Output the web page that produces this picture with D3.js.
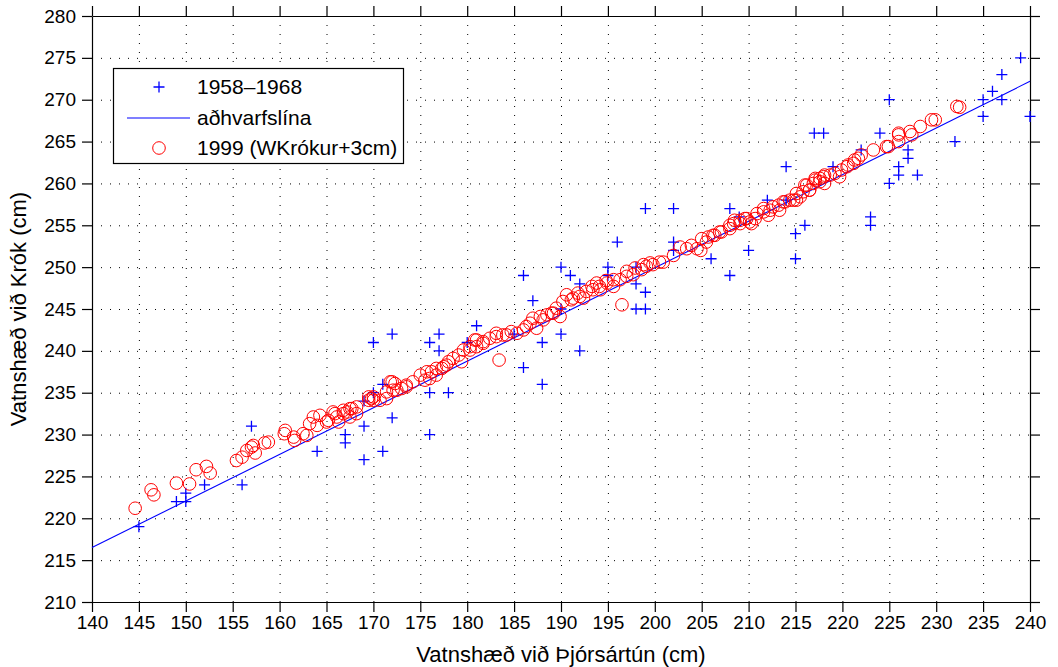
<!DOCTYPE html>
<html>
<head>
<meta charset="utf-8">
<script src="https://cdn.jsdelivr.net/npm/d3@7"></script>
<style>
  body { margin: 0; background: #fff; }
  text { font-family: "Liberation Sans", Arial, Helvetica, sans-serif; }
</style>
</head>
<body>
<div id="chart"></div>
<script>
// axis ticks
var xTicks = [140,145,150,155,160,165,170,175,180,185,190,195,200,205,210,215,220,225,230,235,240];
var yTicks = [210,215,220,225,230,235,240,245,250,255,260,265,270,275,280];

// 1958-1968 measurements (Þjórsártún, Krókur)
var oldX = [145,149,150,150,152,156,157,164,167,167,169,169,169,170,170,171,171,172,172,176,176,176,177,177,178,180,181,185,186,186,187,188,188,190,190,190,191,192,192,195,195,196,198,198,199,198,199,199,202,202,202,206,208,208,209,210,212,214,214,215,215,216,217,218,219,222,223,223,224,225,225,226,226,227,227,228,232,235,235,236,237,237,239,240];
var oldY = [219,222,222,223,224,224,231,228,230,229,227,231,234,235,241,228,236,232,242,241,235,230,242,240,235,241,243,242,249,238,246,241,236,250,242,245,249,248,240,250,249,253,250,248,247,245,245,257,257,253,252,251,257,249,256,252,258,262,258,254,251,255,266,266,262,264,256,255,266,270,260,262,261,264,263,261,265,270,268,271,273,270,275,268];

// regression line end points
var regX = [140, 240];
var regY = [216.5, 272.2];

// 1999 measurements (WKrókur + 3cm)
var newX = [144.6,146.3,146.6,149.0,150.4,151.1,152.2,152.6,155.4,156.0,156.5,157.0,157.4,157.2,158.4,158.8,160.5,161.5,161.6,162.5,162.9,163.2,163.6,164.3,164.0,165.0,165.7,166.1,166.3,167.2,167.7,168.2,167.5,169.5,169.8,170.7,171.4,172.1,172.3,173.0,173.5,
  160.6,165.2,166.8,168.2,170.0,171.4,172.0,174.2,175.0,175.5,176.2,176.7,177.3,177.8,178.5,179.1,179.4,180.3,181.0,181.7,182.4,183.1,183.4,
  165.9,166.8,167.5,169.5,170.0,171.8,172.5,173.5,175.7,176.0,176.7,177.5,178.0,179.6,180.3,180.8,181.0,181.7,183.1,183.8,184.7,185.3,186.0,186.7,187.0,187.4,188.1,188.5,189.0,189.5,189.9,190.2,190.6,191.3,191.8,192.4,192.7,193.3,193.8,194.2,194.9,195.6,196.3,196.5,197.0,197.7,198.6,199.1,199.8,200.5,
  197.9,198.8,199.5,200.9,202.0,202.7,203.4,203.9,204.5,205.0,205.7,206.4,207.1,208.0,208.5,209.1,209.6,210.1,210.7,211.6,212.3,213.2,213.7,214.8,215.5,216.0,216.5,217.1,217.6,218.1,
  184.2,186.3,187.8,189.2,191.1,192.0,193.4,194.1,194.8,195.6,197.0,
  205.5,204.9,206.2,206.9,208.0,208.4,209.1,209.8,210.3,210.9,211.6,212.1,212.6,213.3,213.9,214.4,215.1,215.8,216.2,216.5,217.1,217.6,218.1,218.7,219.2,219.7,220.5,221.2,221.7,223.3,224.7,226.0,
  224.9,226.0,226.0,227.2,227.4,228.3,229.5,229.9,232.2,232.5,
  222.0,221.3,220.6,219.9,218.0,216.9,215.1];
var newY = [221.2,223.4,222.8,224.2,224.1,225.8,226.2,225.4,226.9,227.3,228.1,228.5,227.8,228.7,229.0,229.1,230.1,229.7,229.3,230.1,229.9,231.3,232.1,232.3,231.1,231.5,232.7,232.1,231.5,232.7,233.1,232.5,232.1,234.1,234.3,234.1,234.3,235.3,236.1,235.5,235.9,
  230.5,231.7,232.5,233.3,234.5,235.1,236.3,236.3,237.1,236.5,237.5,237.1,237.9,238.3,239.1,239.5,238.7,240.1,240.5,241.1,241.5,242.1,238.9,
  232.5,232.9,233.1,234.5,234.1,236.3,235.3,235.7,237.5,236.7,237.9,238.1,238.7,240.1,240.5,241.3,241.3,240.9,241.7,241.9,242.3,242.1,242.5,243.3,243.9,242.7,243.7,244.3,244.5,245.1,244.1,245.9,246.7,246.3,246.9,246.3,247.1,247.7,248.1,247.3,248.1,247.7,248.5,245.5,248.9,249.1,249.7,250.1,250.3,250.6,
  249.9,250.3,250.5,250.6,251.4,252.4,252.2,252.6,252.2,253.4,253.6,253.8,254.2,255.0,255.6,255.2,255.8,255.4,255.8,256.6,256.8,257.4,257.8,258.0,258.4,259.8,259.2,260.6,260.2,261.0,
  241.9,242.9,244.1,244.5,246.1,246.5,247.3,247.7,248.4,248.5,249.5,
  253.0,252.0,253.8,254.2,254.6,255.2,255.6,255.8,255.2,256.4,257.0,256.2,257.2,256.8,257.8,258.0,258.0,259.0,259.8,259.2,260.4,260.6,260.0,261.0,261.2,260.8,262.0,262.4,263.0,264.0,264.4,265.8,
  264.4,265.0,266.0,266.2,265.8,266.8,267.6,267.6,269.2,269.1,
  263.4,262.8,262.2,261.6,260.8,260.0,258.8];

var legendNames = ["1958\u20131968", "a\u00f0hvarfsl\u00edna", "1999 (WKr\u00f3kur+3cm)"];

var W = 1058, H = 667;
var pLeft = 92, pRight = 1030, pTop = 16, pBottom = 602;

var svg = d3.select("#chart").append("svg").attr("width", W).attr("height", H);
svg.append("rect").attr("width", W).attr("height", H).attr("fill", "#fff");

var x = d3.scaleLinear().domain([140, 240]).range([pLeft, pRight]);
var y = d3.scaleLinear().domain([210, 280]).range([pBottom, pTop]);

// dotted grid
var grid = svg.append("g").attr("stroke", "#000").attr("stroke-width", 1).attr("stroke-dasharray", "1,8");
grid.selectAll(".gx").data(xTicks.slice(1, -1)).enter().append("line")
  .attr("x1", function (d) { return x(d) + 0.5; }).attr("x2", function (d) { return x(d) + 0.5; })
  .attr("y1", pBottom).attr("y2", pTop);
grid.selectAll(".gy").data(yTicks.slice(1, -1)).enter().append("line")
  .attr("y1", function (d) { return y(d) + 0.5; }).attr("y2", function (d) { return y(d) + 0.5; })
  .attr("x1", pLeft).attr("x2", pRight);

// axes with outward ticks on all four sides
var tl = 10;
var gB = svg.append("g").attr("transform", "translate(0," + pBottom + ")")
  .call(d3.axisBottom(x).tickValues(xTicks).tickSize(tl).tickSizeOuter(0).tickPadding(4));
var gT = svg.append("g").attr("transform", "translate(0," + pTop + ")")
  .call(d3.axisTop(x).tickValues(xTicks).tickSize(tl).tickSizeOuter(0).tickFormat(""));
var gL = svg.append("g").attr("transform", "translate(" + pLeft + ",0)")
  .call(d3.axisLeft(y).tickValues(yTicks).tickSize(tl).tickSizeOuter(0).tickPadding(6));
var gR = svg.append("g").attr("transform", "translate(" + pRight + ",0)")
  .call(d3.axisRight(y).tickValues(yTicks).tickSize(tl).tickSizeOuter(0).tickFormat(""));
[gB, gT, gL, gR].forEach(function (g) {
  g.selectAll("path, line").attr("stroke", "#000").attr("stroke-width", 1.2);
  g.selectAll("text").attr("fill", "#000").style("font-size", "19px")
    .style("font-family", "'Liberation Sans', Arial, sans-serif");
});

// crosses 1958-1968
var cs = 5.5;
svg.append("g").attr("stroke", "#0000ff").attr("stroke-width", 1.3)
  .selectAll("path").data(oldX).enter().append("path")
  .attr("d", function (d, i) {
    var px = x(d), py = y(oldY[i]);
    return "M" + (px - cs) + "," + py + "H" + (px + cs) + "M" + px + "," + (py - cs) + "V" + (py + cs);
  });

// regression line
svg.append("path")
  .datum(regX.map(function (d, i) { return [d, regY[i]]; }))
  .attr("fill", "none").attr("stroke", "#0000ff").attr("stroke-width", 1.1)
  .attr("d", d3.line().x(function (d) { return x(d[0]); }).y(function (d) { return y(d[1]); }));

// circles 1999
svg.append("g").attr("fill", "none").attr("stroke", "#ff0000").attr("stroke-width", 1)
  .selectAll("circle").data(newX).enter().append("circle")
  .attr("cx", function (d) { return x(d); })
  .attr("cy", function (d, i) { return y(newY[i]); })
  .attr("r", 6.3);

// axis labels
svg.append("text").attr("x", (pLeft + pRight) / 2).attr("y", 662).attr("text-anchor", "middle")
  .style("font-size", "22px").text("Vatnsh\u00e6\u00f0 vi\u00f0 \u00dej\u00f3rs\u00e1rt\u00fan (cm)");
svg.append("text").attr("transform", "translate(26," + ((pTop + pBottom) / 2) + ") rotate(-90)")
  .attr("text-anchor", "middle").style("font-size", "22px")
  .text("Vatnsh\u00e6\u00f0 vi\u00f0 Kr\u00f3k (cm)");

// legend
var lg = svg.append("g");
lg.append("rect").attr("x", 113.5).attr("y", 68.5).attr("width", 290).attr("height", 95)
  .attr("fill", "#fff").attr("stroke", "#000").attr("stroke-width", 1.2);
var rows = [87, 118, 148];
lg.append("path").attr("stroke", "#0000ff").attr("stroke-width", 1.3)
  .attr("d", "M" + (159 - cs) + "," + rows[0] + "H" + (159 + cs) + "M159," + (rows[0] - cs) + "V" + (rows[0] + cs));
lg.append("line").attr("x1", 127).attr("x2", 190).attr("y1", rows[1]).attr("y2", rows[1])
  .attr("stroke", "#0000ff").attr("stroke-width", 1.1);
lg.append("circle").attr("cx", 159).attr("cy", rows[2]).attr("r", 6.3)
  .attr("fill", "none").attr("stroke", "#ff0000");
lg.selectAll(".lt").data(legendNames).enter().append("text")
  .attr("x", 197).attr("y", function (d, i) { return rows[i]; }).attr("dy", "0.35em")
  .style("font-size", "21px").text(function (d) { return d; });
</script>
</body>
</html>
